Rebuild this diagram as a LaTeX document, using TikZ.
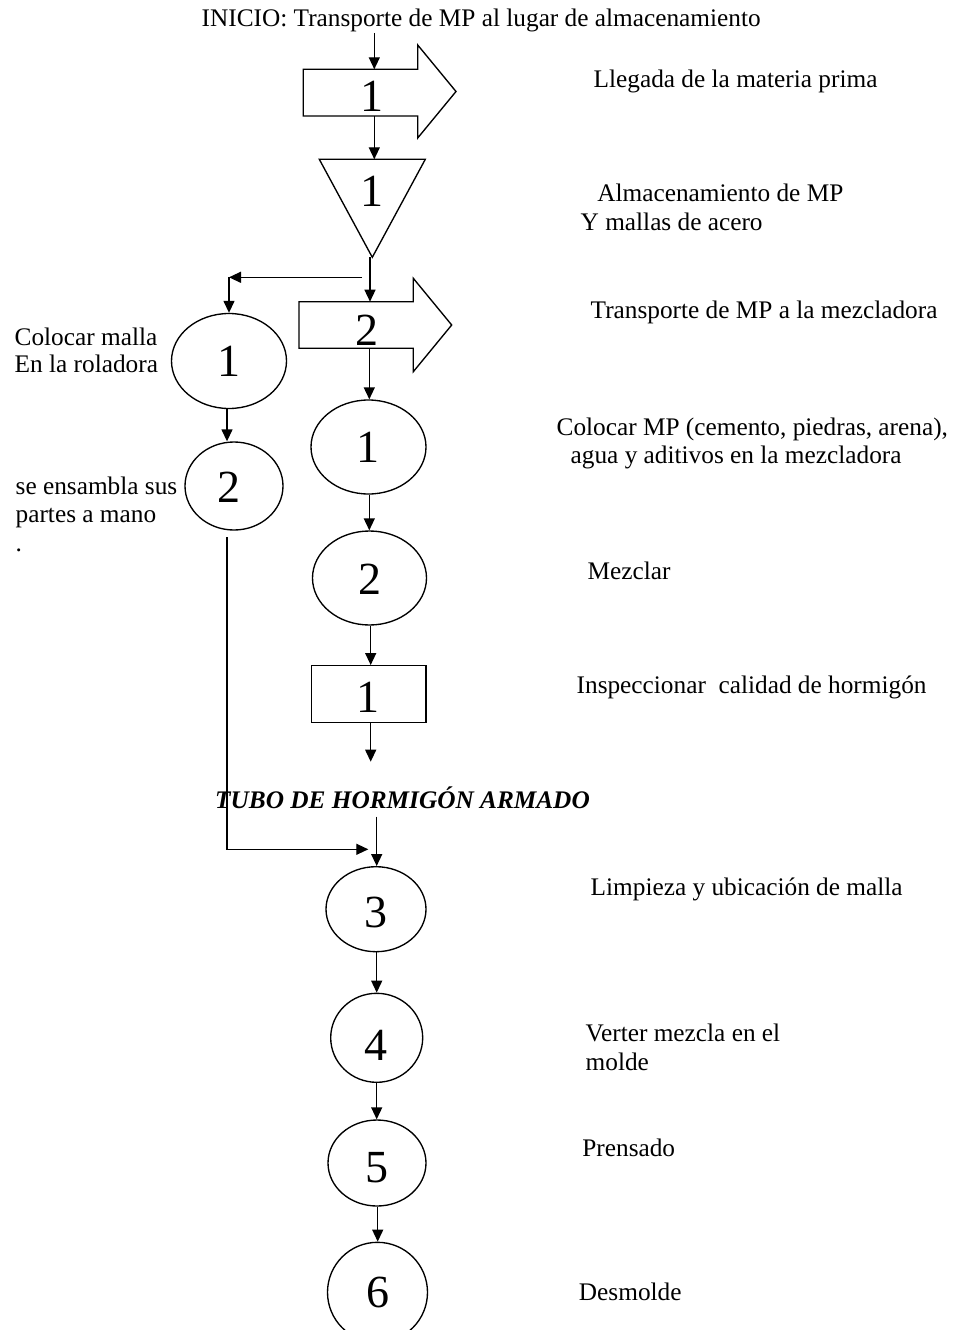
\documentclass[tikz,border=0pt]{standalone}
\usepackage{fontspec}
\setmainfont{Liberation Serif}
\usetikzlibrary{arrows.meta,shapes.geometric}
\begin{document}
\begin{tikzpicture}[x=1pt,y=-1pt,
  line width=1.35pt,
  flow/.style={-{Triangle[length=12pt,width=11pt]}},
  lbl/.style={anchor=base west, inner sep=0, font=\fontsize{25.3}{28}\selectfont},
  num/.style={inner sep=0, font=\fontsize{46}{50}\selectfont},
  oper/.style={ellipse, draw, inner sep=0},
  insp/.style={rectangle, draw, inner sep=0},
]
\clip (0,0) rectangle (954,1330);
\useasboundingbox (0,0) rectangle (954,1330);

% ---- transport 1 (block arrow) ----
\draw (303.3,69.3) -- (417.7,69.3) -- (417.7,45) -- (456,91.5) -- (417.7,138)
      -- (417.7,116) -- (303.3,116) -- cycle;
\coordinate (t1top) at (374.3,69.3);
\coordinate (t1bot) at (374.3,116);
\node[num] (t1n) at (371.7,96.5) {1};

% ---- storage (inverted triangle) ----
\draw (319.3,159.3) -- (425.3,159.3) -- (372.3,257.3) -- cycle;
\coordinate (s1top) at (374.3,159.3);
\coordinate (s1bot) at (370,257.3);
\node[num] (s1n) at (372,191.7) {1};

% ---- transport 2 (block arrow) ----
\draw (299,301.7) -- (413.3,301.7) -- (413.3,278.3) -- (451.7,325) -- (413.3,371.7)
      -- (413.3,348.3) -- (299,348.3) -- cycle;
\coordinate (t2top) at (370,301.7);
\coordinate (t2bot) at (369.3,348.3);
\node[num] (t2n) at (366.7,330) {2};

% ---- branch towards the mesh line ----
\coordinate (split) at (362,277.3);
\coordinate (corner) at (229,277.3);

% ---- left column: mesh operations ----
\node[oper, minimum width=115, minimum height=95] (L1) at (229,361) {};
\node[num] (L1n) at (229,361.3) {1};
\node[oper, minimum width=98, minimum height=88] (L2) at (234,486) {};
\node[num] (L2n) at (229,487.5) {2};
\coordinate (L2out) at (227,537);
\coordinate (join) at (227,849.3);

% ---- centre column: concrete operations ----
\node[oper, minimum width=115, minimum height=94] (C1) at (368.5,447) {};
\node[num] (C1n) at (368.3,447.5) {1};
\node[oper, minimum width=114, minimum height=94] (C2) at (369.5,578) {};
\node[num] (C2n) at (369.5,579) {2};
\node[insp, minimum width=114.3, minimum height=56.6] (R1) at (368.85,694) {};
\node[num] (R1n) at (368,697.5) {1};
\coordinate (R1end) at (370.7,761.7);

% ---- product title ----
\node[anchor=base, inner sep=0, font=\fontsize{25.3}{28}\selectfont\bfseries\itshape]
  (tubo) at (402.5,808) {TUBO DE HORMIGÓN ARMADO};
\coordinate (tuboFoot) at (376.7,816.7);

% ---- final operations ----
\node[oper, minimum width=100, minimum height=85] (E3) at (376,909.2) {};
\node[num] (E3n) at (376,912.5) {3};
\node[oper, minimum width=92, minimum height=89] (E4) at (376.7,1037.8) {};
\node[num] (E4n) at (376,1045) {4};
\node[oper, minimum width=98, minimum height=86] (E5) at (377,1163) {};
\node[num] (E5n) at (377,1167.5) {5};
\node[oper, minimum width=100, minimum height=100] (E6) at (377.5,1292.3) {};
\node[num] (E6n) at (378,1292.5) {6};

% ---- connectors ----
\node[lbl] (inicio) at (201,27) {INICIO: Transporte de MP al lugar de almacenamiento};
\coordinate (inicioFoot) at (374.3,33);
\draw[flow] (inicioFoot) -- (t1top);
\draw[flow] (t1bot) -- (s1top);
\draw[flow] (s1bot) -- (t2top);
\draw[flow] (split) -- (corner);
\draw[flow] (corner) -- (corner |- L1.north);
\draw[flow] (t2bot) -- (t2bot |- C1.north);
\draw[flow] (C1.south -| 369.3,0) -- (C2.north -| 369.3,0);
\draw[flow] (C2.south -| 370.7,0) -- (R1.north -| 370.7,0);
\draw[flow] (R1.south -| 370.7,0) -- (R1end);
\draw[flow] (L1.south -| 227,0) -- (L2.north -| 227,0);
\draw[flow] (L2out) -- (join) -- (368.3,849.3);
\draw[flow] (tuboFoot) -- (tuboFoot |- E3.north);
\draw[flow] (E3.south -| 376.7,0) -- (E4.north -| 376.7,0);
\draw[flow] (E4.south -| 376.7,0) -- (E5.north -| 376.7,0);
\draw[flow] (E5.south -| 377.7,0) -- (E6.north -| 377.7,0);

% ---- descriptions ----
\node[lbl] (d1) at (593,88) {Llegada de la materia prima};
\node[lbl] (d2a) at (596.7,201.7) {Almacenamiento de MP};
\node[lbl] (d2b) at (580,230) {Y mallas de acero};
\node[lbl] (d3) at (590,318) {Transporte de MP a la mezcladora};
\node[lbl] (d4a) at (556,435) {Colocar MP (cemento, piedras, arena),};
\node[lbl] (d4b) at (570,463.3) {agua y aditivos en la mezcladora};
\node[lbl] (d5) at (587,579) {Mezclar};
\node[lbl] (d6) at (576,693) {Inspeccionar\ \ calidad de hormigón};
\node[lbl] (d7) at (590,895) {Limpieza y ubicación de malla};
\node[lbl] (d8a) at (585,1041.7) {Verter mezcla en el};
\node[lbl] (d8b) at (585,1070) {molde};
\node[lbl] (d9) at (581.7,1156) {Prensado};
\node[lbl] (d10) at (578.3,1300) {Desmolde};

\node[lbl] (m1a) at (14,345) {Colocar malla};
\node[lbl] (m1b) at (14,372.7) {En la roladora};
\node[lbl] (m2a) at (15,494) {se ensambla sus};
\node[lbl] (m2b) at (15,522) {partes a mano};
\node[lbl] (m2c) at (15,551) {.};
\end{tikzpicture}
\end{document}
